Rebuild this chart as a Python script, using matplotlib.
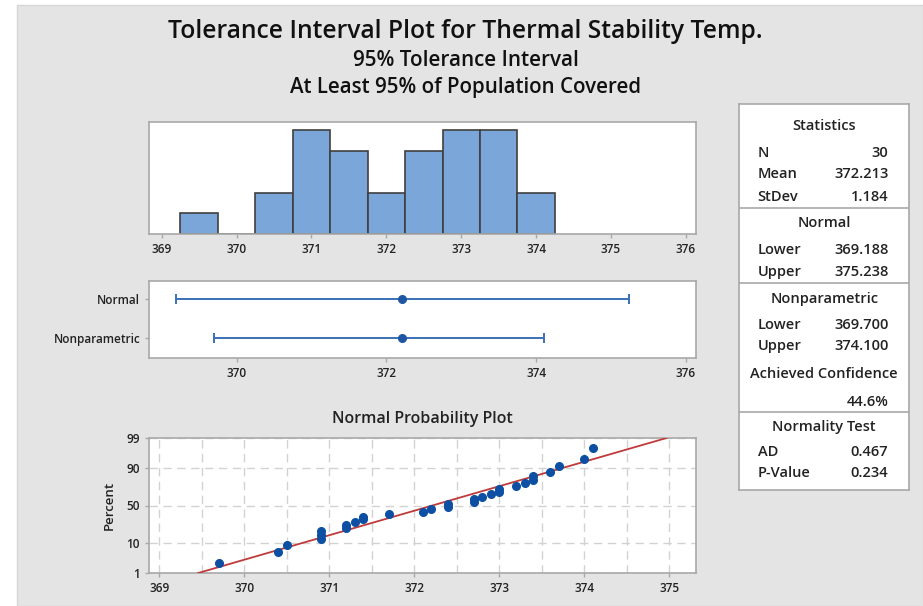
import matplotlib
matplotlib.use("Agg")
import matplotlib.pyplot as plt
from matplotlib.patches import Rectangle
import numpy as np
from statistics import NormalDist

plt.rcParams['font.family'] = ['Open Sans', 'DejaVu Sans']

# ---------------- data ----------------
temps = [369.7, 370.4, 370.5, 370.9, 370.9, 370.9, 371.2, 371.2, 371.3, 371.4,
         371.4, 371.7, 372.1, 372.2, 372.4, 372.4, 372.7, 372.7, 372.8, 372.9,
         373.0, 373.0, 373.2, 373.3, 373.4, 373.4, 373.6, 373.7, 374.0, 374.1]
hist_edges = [369.25, 369.75, 370.25, 370.75, 371.25, 371.75, 372.25,
              372.75, 373.25, 373.75, 374.25]
hist_ticks = [369, 370, 371, 372, 373, 374, 375, 376]

interval_labels = ['Nonparametric', 'Normal']
interval_lower = [369.700, 369.188]
interval_upper = [374.100, 375.238]
interval_ticks = [370, 372, 374, 376]

mean_val = 372.213
stdev_val = 1.184

prob_pct_ticks = [1, 10, 50, 90, 99]
prob_xticks = [369, 370, 371, 372, 373, 374, 375]

title = 'Tolerance Interval Plot for Thermal Stability Temp.'
subtitle1 = '95% Tolerance Interval'
subtitle2 = 'At Least 95% of Population Covered'

stat_headers = ['Statistics', 'Normal', 'Nonparametric', 'Achieved Confidence', 'Normality Test']
stat_labels = ['N', 'Mean', 'StDev', 'Lower', 'Upper', 'Lower', 'Upper', '', 'AD', 'P-Value']
stat_values = ['30', '372.213', '1.184', '369.188', '375.238', '369.700', '374.100',
               '44.6%', '0.467', '0.234']

# ---------------- layout ----------------
W, H = 923, 606
fig = plt.figure(figsize=(W / 100, H / 100), dpi=100, facecolor='white')
fig.patches.append(Rectangle((17 / W, 0), (W - 17) / W, (H - 5) / H,
                             transform=fig.transFigure, facecolor='#E4E4E4',
                             edgecolor='#D6D6D6', lw=1, zorder=-5))


def px_axes(l, t, r, b):
    return fig.add_axes([l / W, 1 - b / H, (r - l) / W, (b - t) / H])


SPINE = '#A8A8A8'
TXT = '#222222'


def style(ax, labelsize=8.5):
    for s in ax.spines.values():
        s.set_color(SPINE)
        s.set_linewidth(1.2)
    ax.tick_params(direction='out', length=3, color=SPINE, labelsize=labelsize,
                   labelcolor=TXT, width=1)
    for lab in ax.get_xticklabels() + ax.get_yticklabels():
        lab.set_fontweight('semibold')
    ax.set_facecolor('white')


# Histogram
ax1 = px_axes(149.3, 121.7, 695.7, 234.3)
ax1.hist(temps, bins=hist_edges, color='#7BA6DA', edgecolor='#3F3F3F', linewidth=1.2)
ax1.set_xlim(368.835, 376.13)
ax1.set_ylim(0, 5.41)
ax1.set_xticks(hist_ticks)
ax1.set_yticks([])
style(ax1)

# Interval plot
ax2 = px_axes(149.3, 280.7, 695.7, 358.3)
ypos = np.arange(1, len(interval_labels) + 1)
lo = np.array(interval_lower)
hi = np.array(interval_upper)
ax2.errorbar([mean_val] * len(ypos), ypos, xerr=[mean_val - lo, hi - mean_val],
             fmt='none', ecolor='#3A70B5', elinewidth=1.4, capsize=3.5, capthick=1.4)
ax2.plot([mean_val] * len(ypos), ypos, 'o', color='#1F56A3', markersize=5.5)
ax2.set_xlim(368.835, 376.13)
ax2.set_ylim(0.5, 2.45)
ax2.set_xticks(interval_ticks)
ax2.set_yticks(ypos)
ax2.set_yticklabels(interval_labels)
style(ax2)

# Normal probability plot
nd = NormalDist()
ax3 = px_axes(149.0, 438.0, 695.7, 573.0)
xs = np.sort(np.array(temps))
n = len(xs)
ranks = np.arange(1, n + 1)
pp = (ranks - 0.3) / (n + 0.4)
zs = np.array([nd.inv_cdf(p) for p in pp])
zlo, zhi = nd.inv_cdf(prob_pct_ticks[0] / 100), nd.inv_cdf(prob_pct_ticks[-1] / 100)
zline = np.array([zlo, zhi])
ax3.plot(mean_val + stdev_val * zline, zline, color='#BF3A3A', lw=1.3, zorder=3)
ax3.plot(xs, zs, 'o', color='#0D4FA3', markersize=5.5, zorder=4)
ax3.set_xlim(368.88, 375.31)
ax3.set_ylim(zlo, zhi)
ax3.set_xticks(prob_xticks)
ax3.set_xticks([v + 0.5 for v in prob_xticks[:-1]], minor=True)
ax3.tick_params(axis='x', which='minor', length=0)
ax3.set_yticks([nd.inv_cdf(p / 100) for p in prob_pct_ticks])
ax3.set_yticklabels([str(p) for p in prob_pct_ticks])
ax3.grid(True, which='both', axis='x', color='#D2D2D2', linestyle=(0, (6, 4)), lw=1)
ax3.grid(True, which='major', axis='y', color='#D2D2D2', linestyle=(0, (6, 4)), lw=1)
ax3.set_axisbelow(True)
style(ax3)
ax3.set_ylabel('Percent', fontsize=9.5, color=TXT, fontweight='semibold', labelpad=8)
ax3.set_title('Normal Probability Plot', fontsize=11.5, color=TXT,
              fontweight='semibold', pad=11)

# Titles
t1 = fig.text(465 / W, 1 - 31 / H, title, ha='center', va='center', fontsize=20,
              color='#111111', fontweight='semibold')
t2 = fig.text(466 / W, 1 - 60 / H, subtitle1, ha='center', va='center', fontsize=13,
              color='#111111', fontweight='semibold')
t3 = fig.text(466 / W, 1 - 88 / H, subtitle2, ha='center', va='center', fontsize=13,
              color='#111111', fontweight='semibold')

fig.canvas.draw()
rend = fig.canvas.get_renderer()
for t, target in [(t1, 592), (t2, 225), (t3, 351)]:
    w = t.get_window_extent(rend).width
    t.set_fontsize(t.get_fontsize() * target / w)

# Statistics box
ax4 = px_axes(739.3, 104, 909.3, 490)
ax4.set_xlim(739.3, 909.3)
ax4.set_ylim(490, 104)
ax4.set_xticks([])
ax4.set_yticks([])
for s in ax4.spines.values():
    s.set_color(SPINE)
    s.set_linewidth(1.2)
for yd in [208.3, 282.7, 411.7]:
    ax4.axhline(yd, color=SPINE, lw=1.2)

cx = 824.3
header_y = [126, 223.3, 299.3, 374, 427.3]
hdr = []
for h, y in zip(stat_headers, header_y):
    hdr.append(ax4.text(cx, y, h, ha='center', va='center', fontsize=10.5,
                        color=TXT, fontweight='semibold'))
row_y = [153.3, 174, 196.7, 250, 271.7, 325, 345.7, 401.7, 452.3, 473.3]
for lab, val, y in zip(stat_labels, stat_values, row_y):
    if lab:
        ax4.text(757.5, y, lab, ha='left', va='center', fontsize=10.5, color=TXT,
                 fontweight='semibold')
    ax4.text(888.3, y, val, ha='right', va='center', fontsize=10.5, color=TXT,
             fontweight='semibold')

# fit "Achieved Confidence" header width to the reference (~148 px)
fig.canvas.draw()
w = hdr[3].get_window_extent(rend).width
scale = 148 / w
for t in ax4.texts:
    t.set_fontsize(t.get_fontsize() * scale)

fig.savefig('out.png', dpi=100, facecolor='white')
